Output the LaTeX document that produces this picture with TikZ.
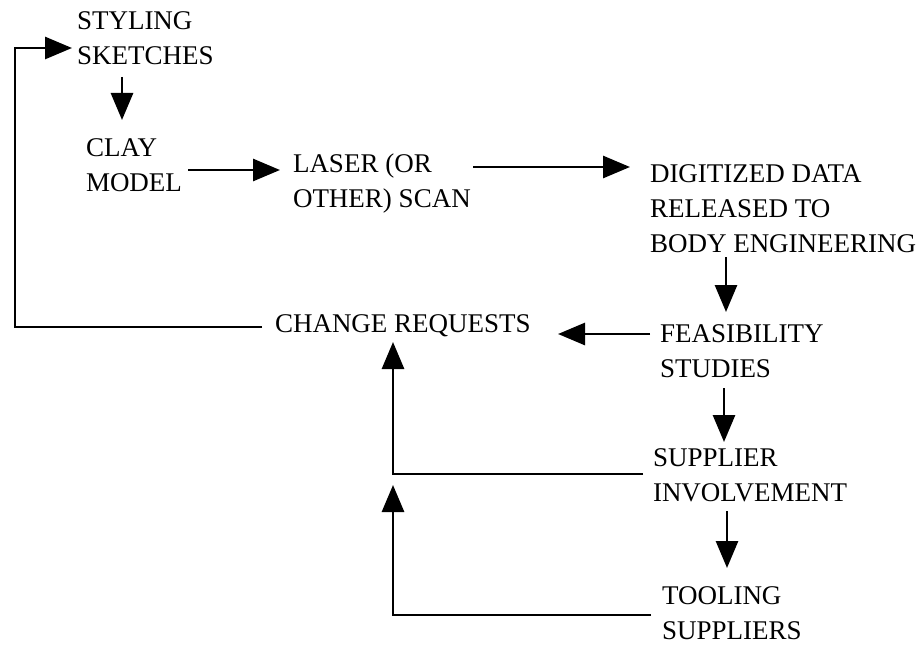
\documentclass[tikz,border=0pt]{standalone}
\usepackage{fontspec}
\setmainfont{Liberation Serif}
\usepackage{tikz}
\usetikzlibrary{positioning,calc}
\usetikzlibrary{arrows.meta}
\tikzstyle{stage} = [inner sep=0pt, outer sep=0pt, anchor=north west, align=left,
    font=\fontsize{13.5}{17.5}\selectfont]
\tikzstyle{flow} = [line width=1.4pt, -{Triangle[length=13.5pt, width=11pt]}]
\tikzstyle{line} = [line width=1.4pt]

\begin{document}
\begin{tikzpicture}[x=0.5pt, y=-0.5pt]
    \useasboundingbox (0,0) rectangle (924,647);
    % We start by placing the stages
    \node [stage] (sketch) at (77,12) {STYLING\\SKETCHES};
    \node [stage] (clay) at (86,139) {CLAY\\MODEL};
    \node [stage] (scan) at (293,154) {LASER (OR\\OTHER) SCAN};
    \node [stage] (digit) at (650,165) {DIGITIZED DATA\\RELEASED TO\\BODY ENGINEERING};
    \node [stage] (feas) at (660,325) {FEASIBILITY\\STUDIES};
    \node [stage] (change) at (275,315) {CHANGE REQUESTS};
    \node [stage] (supp) at (653,449) {SUPPLIER\\INVOLVEMENT};
    \node [stage] (tool) at (662,587) {TOOLING\\SUPPLIERS};
    % main chain
    \draw [flow] ([shift={(45,65)}]sketch.north west) -- ([shift={(36,-19)}]clay.north west);
    \draw [flow] ([shift={(102,31)}]clay.north west) -- ([shift={(-13,16)}]scan.north west);
    \draw [flow] ([shift={(180,13)}]scan.north west) -- ([shift={(-20,2)}]digit.north west);
    \draw [flow] ([shift={(76,92)}]digit.north west) -- ([shift={(66,-13)}]feas.north west);
    \draw [flow] ([shift={(-10,9)}]feas.north west) -- ([shift={(283,19)}]change.north west);
    \draw [flow] ([shift={(64,63)}]feas.north west) -- ([shift={(71,-7)}]supp.north west);
    \draw [flow] ([shift={(74,62)}]supp.north west) -- ([shift={(65,-19)}]tool.north west);
    % feedback loops
    \coordinate (loop) at (15,48);
    \coordinate (chgout) at ([shift={(-13,12)}]change.north west);
    \coordinate (sketchin) at ([shift={(-5,36)}]sketch.north west);
    \draw [flow] (chgout) -- (chgout -| loop) |- (sketchin);
    \draw [flow] ([shift={(-10,25)}]supp.north west) -| ([shift={(118,27)}]change.north west);
    \coordinate (join) at ([shift={(-260,36)}]supp.north west);
    \draw [flow] ([shift={(-11,28)}]tool.north west) -| (join);
\end{tikzpicture}
\end{document}
